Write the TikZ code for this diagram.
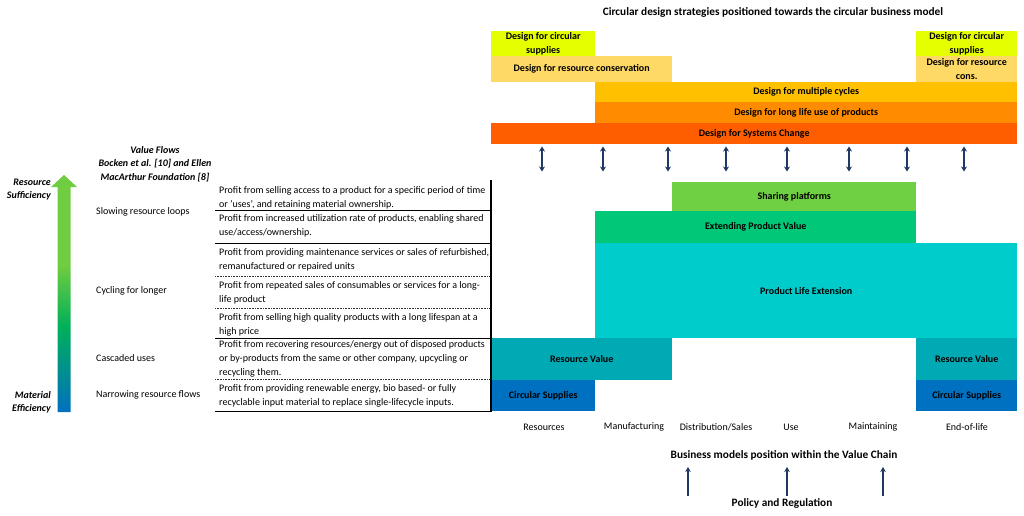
\documentclass[tikz,border=0pt]{standalone}
\usepackage{fontspec}
\setmainfont{Carlito}
\usetikzlibrary{arrows.meta}
\definecolor{dcsup}{RGB}{230,255,0}
\definecolor{drcons}{RGB}{255,217,102}
\definecolor{dmcyc}{RGB}{255,192,0}
\definecolor{dlong}{RGB}{255,139,0}
\definecolor{dsys}{RGB}{255,94,0}
\definecolor{navy}{RGB}{31,56,100}
\definecolor{cshare}{RGB}{112,208,68}
\definecolor{cext}{RGB}{0,200,120}
\definecolor{cple}{RGB}{0,204,204}
\definecolor{cres}{RGB}{0,170,180}
\definecolor{ccirc}{RGB}{0,112,192}
\definecolor{effblue}{RGB}{0,112,192}
\definecolor{effgreen}{RGB}{0,176,90}
\definecolor{efflight}{RGB}{112,204,64}
\pgfdeclareverticalshading{effgrad}{100bp}{color(0bp)=(effblue); color(25bp)=(effblue); color(43bp)=(effgreen); color(56bp)=(efflight); color(100bp)=(efflight)}
\begin{document}
\begin{tikzpicture}[x=1pt,y=-1pt,
  blk/.style={draw=none, inner sep=0pt, anchor=north west, align=center,
    font=\fontsize{10}{14}\selectfont\bfseries},
  rowtxt/.style={anchor=west, align=left, inner sep=0pt,
    font=\fontsize{10}{14}\selectfont},
  cattxt/.style={anchor=west, inner sep=0pt, font=\fontsize{10}{12}\selectfont},
  chain/.style={inner sep=0pt, font=\fontsize{10}{12}\selectfont},
  bold/.style={inner sep=0pt, font=\fontsize{11.3}{13}\selectfont\bfseries},
  bitxt/.style={inner sep=0pt, align=right, font=\fontsize{10}{13}\selectfont\bfseries\itshape},
  dblarrow/.style={navy, line width=1.7pt, {Stealth[length=5pt,width=6pt]}-{Stealth[length=5pt,width=6pt]}},
  uparrow/.style={navy, line width=1.3pt, -{Stealth[length=5pt,width=5.5pt]}},
  solidrule/.style={black, line width=0.6pt},
  dotrule/.style={black!80, line width=0.6pt, densely dotted}]
\useasboundingbox (0,0) rectangle (1024,515);
% title
\node[bold] (title) at (773,12) {Circular design strategies positioned towards the circular business model};
% design strategy blocks
\node[blk, fill=dcsup, minimum width=104pt, minimum height=25pt] (dcs1) at (491,31) {Design for circular\\supplies};
\node[blk, fill=drcons, minimum width=181pt, minimum height=26pt] (drc1) at (491,56) {Design for resource conservation};
\node[blk, fill=dcsup, minimum width=101pt, minimum height=25pt] (dcs2) at (916,31) {Design for circular\\supplies};
\node[blk, fill=drcons, minimum width=101pt, minimum height=26pt] (drc2) at (916,56) {Design for resource\\cons.};
\node[blk, fill=dmcyc, minimum width=422pt, minimum height=20pt] (dmc) at (595,82) {Design for multiple cycles};
\node[blk, fill=dlong, minimum width=422pt, minimum height=21pt] (dll) at (595,102) {Design for long life use of products};
\node[blk, fill=dsys, minimum width=526pt, minimum height=21pt] (dsc) at (491,123) {Design for Systems Change};
% double arrows
\foreach \i/\xx in {1/542,2/603,3/668,4/726,5/787,6/849,7/907,8/964}{
  \coordinate (at\i) at (\xx,146.5);
  \coordinate (ab\i) at (\xx,171.5);
  \draw[dblarrow] (at\i) -- (ab\i);
}
% business model blocks
\node[blk, fill=cshare, minimum width=244pt, minimum height=29pt] (shp) at (672,182) {Sharing platforms};
\node[blk, fill=cext, minimum width=321pt, minimum height=32pt] (epv) at (595,211) {Extending Product Value};
\node[blk, fill=cple, minimum width=422pt, minimum height=95pt] (ple) at (595,243) {Product Life Extension};
\node[blk, fill=cres, minimum width=181pt, minimum height=42pt] (rv1) at (491,338) {Resource Value};
\node[blk, fill=cres, minimum width=101pt, minimum height=42pt] (rv2) at (916,338) {Resource Value};
\node[blk, fill=ccirc, minimum width=104pt, minimum height=31pt] (cs1) at (491,380) {Circular Supplies};
\node[blk, fill=ccirc, minimum width=101pt, minimum height=31pt] (cs2) at (916,380) {Circular Supplies};
% table rules
\draw[solidrule] (215,210) -- (491,210);
\draw[black, line width=0.9pt] (215,243) -- (491,243);
\draw[dotrule] (215,276) -- (491,276);
\draw[dotrule] (215,308) -- (491,308);
\draw[solidrule] (215,338) -- (491,338);
\draw[dotrule] (215,379) -- (491,379);
\draw[solidrule] (215,411.5) -- (491,411.5);
\draw[black, line width=1.6pt] (491,180) -- (491,412);
% table rows
\node[rowtxt] (r1) at (219,197.5) {Profit from selling access to a product for a specific period of time\\or 'uses', and retaining material ownership.};
\node[rowtxt] (r2) at (219,226) {Profit from increased utilization rate of products, enabling shared\\use/access/ownership.};
\node[rowtxt] (r3) at (219,259.5) {Profit from providing maintenance services or sales of refurbished,\\remanufactured or repaired units};
\node[rowtxt] (r4) at (219,292.5) {Profit from repeated sales of consumables or services for a long-\\life product};
\node[rowtxt] (r5) at (219,324.5) {Profit from selling high quality products with a long lifespan at a\\high price};
\node[rowtxt] (r6) at (219,359) {Profit from recovering resources/energy out of disposed products\\or by-products from the same or other company, upcycling or\\recycling them.};
\node[rowtxt] (r7) at (219,395.5) {Profit from providing renewable energy, bio based- or fully\\recyclable input material to replace single-lifecycle inputs.};
% categories
\node[cattxt] (c1) at (96,212) {Slowing resource loops};
\node[cattxt] (c2) at (96,291) {Cycling for longer};
\node[cattxt] (c3) at (96,358) {Cascaded uses};
\node[cattxt] (c4) at (96,395) {Narrowing resource flows};
% header
\node[inner sep=0pt, align=center, font=\fontsize{10}{13.5}\selectfont\bfseries\itshape] (vf) at (155,164) {Value Flows\\Bocken et al. [10] and Ellen\\MacArthur Foundation [8]};
% gradient arrow
\shade[shading=effgrad] (57.5,412) -- (57.5,187) -- (51,187) -- (64,175) -- (77,187) -- (70.5,187) -- (70.5,412) -- cycle;
\node[bitxt, anchor=east] (rs) at (51,190) {Resource\\Sufficiency};
\node[bitxt, anchor=east] (me) at (51,402) {Material\\Efficiency};
% value chain labels
\node[chain] (vc1) at (544,427) {Resources};
\node[chain] (vc2) at (634,427) {Manufacturing};
\node[chain] (vc3) at (716,427) {Distribution/Sales};
\node[chain] (vc4) at (791,427) {Use};
\node[chain] (vc5) at (873,427) {Maintaining};
\node[chain] (vc6) at (967,427) {End-of-life};
% bottom
\node[bold] (bm) at (784,455) {Business models position within the Value Chain};
\node[bold] (pr) at (782,503) {Policy and Regulation};
\foreach \i/\xx in {1/688,2/787,3/883}{
  \coordinate (pb\i) at (\xx,496);
  \coordinate (pt\i) at (\xx,467);
  \draw[uparrow] (pb\i) -- (pt\i);
}
\end{tikzpicture}
\end{document}
